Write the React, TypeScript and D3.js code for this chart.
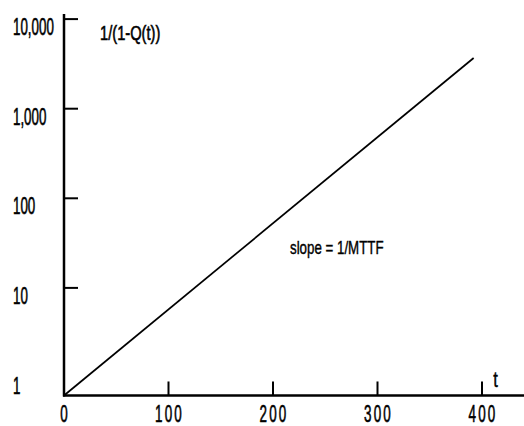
import React from "react";
import * as d3 from "d3";

const xTicks = [0, 100, 200, 300, 400];
const xTickLabels = ["0", "100", "200", "300", "400"];
const yTicks = [1, 10, 100, 1000, 10000];
const yTickLabels = ["1", "10", "100", "1,000", "10,000"];
const yFloor = 0.63; // value at the x-axis (origin)
const lineT = [0, 392];
const lineV = [0.63, 3680];
const yTitle = "1/(1-Q(t))";
const xTitle = "t";
const note = "slope = 1/MTTF";

const W = 524;
const H = 426;
const FONT = "'Liberation Sans', Arial, sans-serif";

function T({ x, y, sx = 0.62, size = 22, anchor = "start", spacing = 0, sw = 0.6, children }: any) {
  return (
    <text
      transform={`translate(${x},${y}) scale(${sx},1)`}
      fontSize={size}
      textAnchor={anchor}
      letterSpacing={spacing}
      fill="#000"
      stroke="#000"
      strokeWidth={sw}
      fontFamily={FONT}
    >
      {children}
    </text>
  );
}

export default function App() {
  const x = d3.scaleLinear().domain([0, 400]).range([64, 482]);
  const y = d3.scaleLog().domain([1, 10000]).range([377.5, 19.1]);
  const x0 = x(0);
  const y0 = y(yFloor);
  const pts = lineT.map((t, i) => [t, lineV[i]] as [number, number]);
  const line = d3
    .line<[number, number]>()
    .x((d) => x(d[0]))
    .y((d) => y(d[1]));

  return (
    <svg
      width={W}
      height={H}
      style={{ position: "absolute", left: 0, top: 0, background: "#fff" }}
    >
      <rect width={W} height={H} fill="#fff" />
      {/* axes */}
      <line x1={x0} x2={x0} y1={y(10000) - 5} y2={y0 + 1} stroke="#000" strokeWidth={2.5} />
      <line x1={x0 - 1} x2={W} y1={y0} y2={y0} stroke="#000" strokeWidth={2.5} />
      {/* y ticks */}
      {yTicks.map((v, i) =>
        v === 1 ? null : (
          <line key={"yt" + i} x1={x0} x2={x0 + 14} y1={y(v)} y2={y(v)} stroke="#000" strokeWidth={2} />
        )
      )}
      {yTicks.map((v, i) => (
        <T key={"yl" + i} x={13} y={y(v) + 16} size={23} sx={0.58}>
          {yTickLabels[i]}
        </T>
      ))}
      {/* x ticks */}
      {xTicks.map((v, i) =>
        v === 0 ? null : (
          <line key={"xt" + i} x1={x(v)} x2={x(v)} y1={y0} y2={y0 - 14} stroke="#000" strokeWidth={2} />
        )
      )}
      {xTicks.map((v, i) => (
        <T key={"xl" + i} x={x(v) + 1} y={422} size={24} sx={0.56} spacing={4} anchor="middle">
          {xTickLabels[i]}
        </T>
      ))}
      {/* data line */}
      <path d={line(pts) || ""} fill="none" stroke="#000" strokeWidth={1.7} />
      {/* texts */}
      <T x={100} y={40} size={21} sx={0.7}>
        {yTitle}
      </T>
      <T x={290} y={254} size={18} sx={0.74} sw={0.4}>
        {note}
      </T>
      <T x={495.5} y={387} size={22} sx={0.75} anchor="middle" sw={0.4}>
        {xTitle}
      </T>
    </svg>
  );
}
